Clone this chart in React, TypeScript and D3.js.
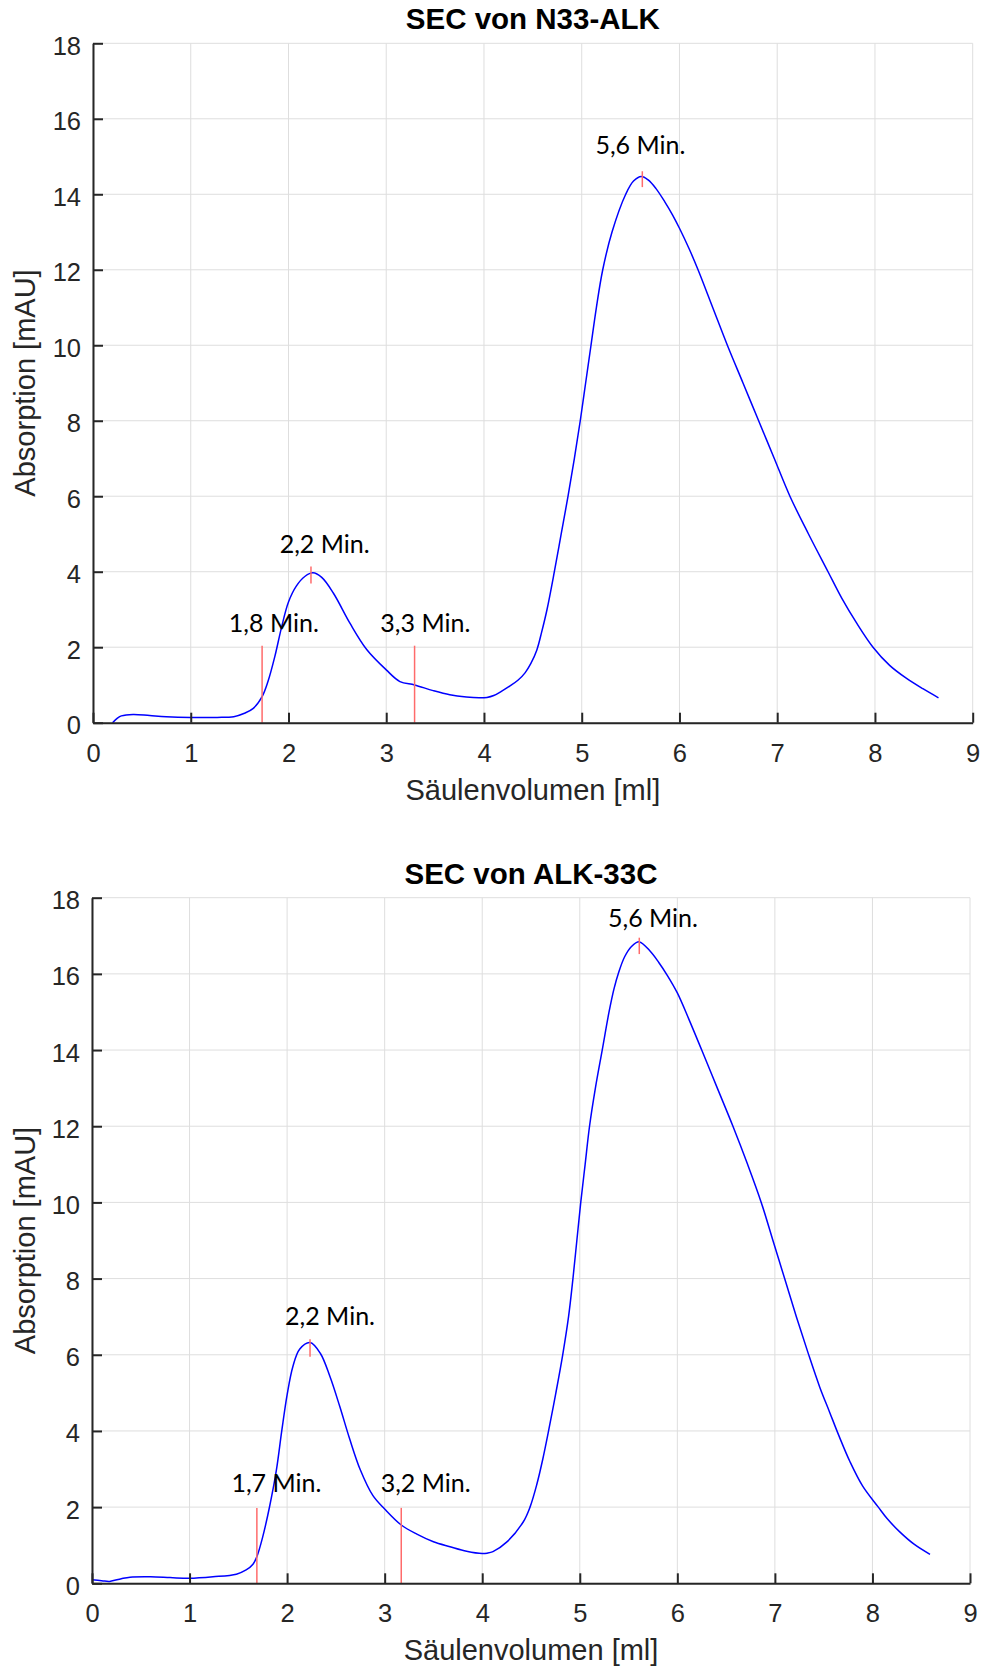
import { useEffect, useRef } from "react";
import * as d3 from "d3";

// x = Säulenvolumen [ml], y = Absorption [mAU]
const n33Curve: [number, number][] = [
  [0.2, 0], [0.25, 0.12], [0.29, 0.18], [0.41, 0.22], [0.58, 0.19], [0.75, 0.16],
  [1.0, 0.14], [1.27, 0.14], [1.44, 0.16], [1.55, 0.25], [1.64, 0.38], [1.73, 0.69],
  [1.79, 1.09], [1.86, 1.75], [1.93, 2.54], [2.0, 3.2], [2.08, 3.62], [2.17, 3.88],
  [2.25, 3.97], [2.34, 3.85], [2.46, 3.43], [2.63, 2.63], [2.8, 1.94], [3.0, 1.4],
  [3.14, 1.09], [3.29, 1.0], [3.48, 0.85], [3.65, 0.74], [3.82, 0.68], [3.95, 0.66],
  [4.03, 0.67], [4.1, 0.72], [4.19, 0.85], [4.27, 0.98], [4.35, 1.13], [4.42, 1.32],
  [4.48, 1.57], [4.54, 1.92], [4.59, 2.4], [4.645, 3.0], [4.72, 4.0], [4.79, 5.0],
  [4.86, 6.0], [4.925, 7.0], [4.985, 8.0], [5.04, 9.0], [5.095, 10.0], [5.15, 11.0],
  [5.215, 12.0], [5.31, 13.0], [5.45, 14.0], [5.53, 14.35], [5.61, 14.47], [5.68, 14.38],
  [5.76, 14.15], [5.85, 13.8], [5.93, 13.45], [6.0, 13.1], [6.1, 12.55], [6.19, 12.0],
  [6.34, 11.0], [6.49, 10.0], [6.65, 9.0], [6.81, 8.0], [6.97, 7.0], [7.13, 6.0],
  [7.32, 5.0], [7.52, 4.0], [7.66, 3.3], [7.81, 2.65], [7.98, 2.0], [8.15, 1.52],
  [8.32, 1.18], [8.49, 0.9], [8.65, 0.66],
];

const alk33cCurve: [number, number][] = [
  [0.0, 0.09], [0.1, 0.07], [0.18, 0.05], [0.3, 0.12], [0.39, 0.16], [0.6, 0.17],
  [0.8, 0.15], [1.0, 0.13], [1.24, 0.17], [1.48, 0.24], [1.58, 0.35], [1.65, 0.5],
  [1.69, 0.7], [1.75, 1.22], [1.82, 2.01], [1.89, 2.97], [1.945, 4.0], [2.0, 4.95],
  [2.06, 5.7], [2.13, 6.15], [2.235, 6.32], [2.34, 6.04], [2.44, 5.42], [2.54, 4.64],
  [2.64, 3.8], [2.75, 2.98], [2.88, 2.3], [3.0, 1.95], [3.17, 1.53], [3.33, 1.29],
  [3.5, 1.09], [3.67, 0.96], [3.84, 0.84], [4.0, 0.78], [4.05, 0.79], [4.11, 0.83],
  [4.25, 1.08], [4.42, 1.61], [4.49, 2.0], [4.56, 2.6], [4.62, 3.25], [4.68, 4.0],
  [4.755, 5.0], [4.825, 6.0], [4.885, 7.0], [4.93, 8.0], [4.97, 9.0], [5.01, 10.0],
  [5.055, 11.0], [5.1, 12.0], [5.16, 13.0], [5.23, 14.0], [5.3, 15.0], [5.35, 15.6],
  [5.4, 16.05], [5.46, 16.45], [5.53, 16.72], [5.61, 16.84], [5.72, 16.6], [5.81, 16.3],
  [5.9, 15.95], [6.0, 15.5], [6.12, 14.8], [6.25, 14.0], [6.41, 13.0], [6.57, 12.0],
  [6.72, 11.0], [6.86, 10.0], [6.98, 9.0], [7.1, 8.0], [7.22, 7.0], [7.34, 6.05],
  [7.46, 5.15], [7.56, 4.5], [7.66, 3.85], [7.77, 3.19], [7.9, 2.55], [8.06, 2.0],
  [8.15, 1.7], [8.28, 1.35], [8.43, 1.02], [8.59, 0.76],
];

// red marks: [x, y from, y to]
const n33Marks: [number, number, number][] = [
  [1.73, 0, 2.04], [3.29, 0, 2.04], [2.23, 3.69, 4.14], [5.62, 14.19, 14.61],
];
const alk33cMarks: [number, number, number][] = [
  [1.69, 0, 1.98], [3.17, 0, 1.98], [2.235, 5.95, 6.41], [5.61, 16.52, 16.95],
];

// text annotations: [text, x centre, y baseline]
const n33Labels: [string, number, number][] = [
  ["1,8 Min.", 1.85, 2.41], ["2,2 Min.", 2.37, 4.5], ["3,3 Min.", 3.4, 2.4], ["5,6 Min.", 5.6, 15.07],
];
const alk33cLabels: [string, number, number][] = [
  ["1,7 Min.", 1.89, 2.4], ["2,2 Min.", 2.44, 6.78], ["3,2 Min.", 3.42, 2.4], ["5,6 Min.", 5.75, 17.23],
];

const xDomain = [0, 9];
const yDomain = [0, 18];

const FONT = "'Liberation Sans', Arial, Helvetica, sans-serif";
const AXIS_COLOR = "#262626";

const Panel = ({ title, curve, marks, labels, box }) => {
  const xAxisRef = useRef(null);
  const yAxisRef = useRef(null);

  const x = d3.scaleLinear().domain(xDomain).range([box.left, box.right]);
  const y = d3.scaleLinear().domain(yDomain).range([box.bottom, box.top]);
  const line = d3
    .line()
    .x((d) => x(d[0]))
    .y((d) => y(d[1]))
    .curve(d3.curveCatmullRom.alpha(0.5));

  useEffect(() => {
    const styleAxis = (g) => {
      g.attr("font-family", FONT).attr("font-size", 25.5);
      g.select(".domain").attr("stroke", AXIS_COLOR).attr("stroke-width", 2);
      g.selectAll(".tick line").attr("stroke", AXIS_COLOR).attr("stroke-width", 2);
      g.selectAll(".tick text").attr("fill", AXIS_COLOR);
    };

    const gx = d3.select(xAxisRef.current);
    gx.call(d3.axisBottom(x).ticks(9).tickSize(-10).tickSizeOuter(0).tickPadding(21));
    styleAxis(gx);

    const gy = d3.select(yAxisRef.current);
    gy.call(d3.axisLeft(y).ticks(9).tickSize(-10).tickSizeOuter(0).tickPadding(12));
    styleAxis(gy);
    gy.selectAll(".tick text").attr("dy", "0.43em");
  }, []);

  const cx = (box.left + box.right) / 2;
  const cy = (box.top + box.bottom) / 2;

  return (
    <g>
      {/* grid */}
      <g stroke="#dedede" strokeWidth={1}>
        {x.ticks(9).map((t) => (
          <line key={"gx" + t} x1={x(t)} x2={x(t)} y1={box.top} y2={box.bottom} />
        ))}
        {y.ticks(9).map((t) => (
          <line key={"gy" + t} x1={box.left} x2={box.right} y1={y(t)} y2={y(t)} />
        ))}
      </g>

      <path d={line(curve)} fill="none" stroke="#0000ff" strokeWidth={1.5} />

      <g stroke="#ff6b6b" strokeWidth={1.5}>
        {marks.map((m, i) => (
          <line key={i} x1={x(m[0])} x2={x(m[0])} y1={y(m[1])} y2={y(m[2])} />
        ))}
      </g>

      <g fontFamily="Lato, 'Open Sans', sans-serif" fontSize={25} fill="#000" textAnchor="middle">
        {labels.map((l, i) => (
          <text key={i} x={x(l[1])} y={y(l[2])}>
            {l[0]}
          </text>
        ))}
      </g>

      <g ref={xAxisRef} transform={`translate(0,${box.bottom})`} />
      <g ref={yAxisRef} transform={`translate(${box.left},0)`} />

      <text x={cx} y={box.top - 14} textAnchor="middle" fontFamily={FONT} fontWeight="bold" fontSize={29.5} fill="#000">
        {title}
      </text>
      <text x={cx} y={box.bottom + 77} textAnchor="middle" fontFamily={FONT} fontSize={29} fill={AXIS_COLOR}>
        Säulenvolumen [ml]
      </text>
      <text
        transform={`translate(35,${cy}) rotate(-90)`}
        textAnchor="middle"
        fontFamily={FONT}
        fontSize={29}
        fill={AXIS_COLOR}
      >
        Absorption [mAU]
      </text>
    </g>
  );
};

const App = () => {
  return (
    <svg width={982} height={1668} style={{ position: "absolute", left: 0, top: 0, display: "block" }}>
      <rect width={982} height={1668} fill="#fff" />
      <Panel
        title="SEC von N33-ALK"
        curve={n33Curve}
        marks={n33Marks}
        labels={n33Labels}
        box={{ left: 93, right: 972.7, top: 43.3, bottom: 722.7 }}
      />
      <Panel
        title="SEC von ALK-33C"
        curve={alk33cCurve}
        marks={alk33cMarks}
        labels={alk33cLabels}
        box={{ left: 92, right: 970, top: 897.7, bottom: 1583.3 }}
      />
    </svg>
  );
};

export default App;
